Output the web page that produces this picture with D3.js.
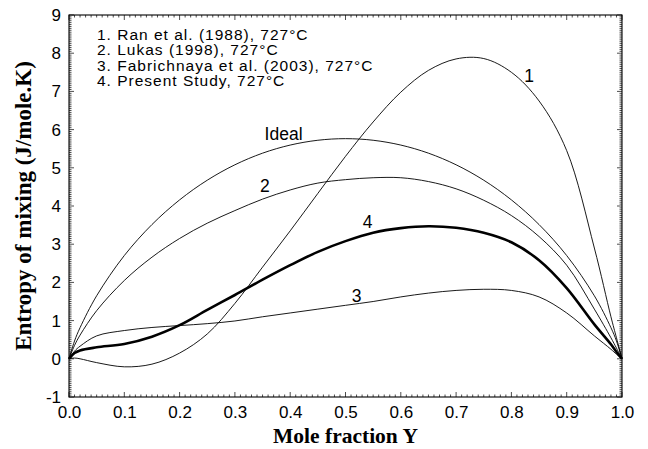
<!DOCTYPE html>
<html><head><meta charset="utf-8">
<script src="https://cdn.jsdelivr.net/npm/d3@7"></script>
<style>body{margin:0;background:#fff}svg{display:block}</style>
</head><body>
<svg id="chart" width="648" height="449"></svg>
<script>
// Data
const xs = [0,0.01,0.02,0.05,0.1,0.15,0.2,0.25,0.3,0.35,0.4,0.45,0.5,0.55,0.6,0.65,0.7,0.75,0.8,0.85,0.9,0.95,0.98,0.99,1];
const ideal = [0,0.466,0.815,1.650,2.703,3.514,4.160,4.675,5.079,5.383,5.595,5.721,5.763,5.721,5.595,5.383,5.079,4.675,4.160,3.514,2.703,1.650,0.815,0.466,0];
const ran   = [0,0.02,0.0,-0.10,-0.21,-0.14,0.15,0.65,1.45,2.40,3.35,4.33,5.30,6.20,6.98,7.55,7.85,7.86,7.50,6.75,5.45,2.90,1.10,0.55,0];
const lukas = [0,0.35,0.62,1.26,2.05,2.66,3.15,3.55,3.88,4.18,4.42,4.60,4.69,4.74,4.74,4.64,4.45,4.15,3.75,3.20,2.45,1.30,0.55,0.28,0];
const fabr  = [0,0.20,0.33,0.60,0.74,0.82,0.87,0.92,0.99,1.10,1.20,1.30,1.40,1.50,1.62,1.72,1.79,1.82,1.79,1.62,1.20,0.60,0.25,0.12,0];
const present=[0,0.15,0.22,0.30,0.39,0.58,0.88,1.28,1.67,2.07,2.45,2.80,3.08,3.30,3.42,3.47,3.43,3.30,3.05,2.58,1.85,0.90,0.38,0.18,0];
const xTicks = [0,0.1,0.2,0.3,0.4,0.5,0.6,0.7,0.8,0.9,1.0];
const yTicks = [-1,0,1,2,3,4,5,6,7,8,9];
const legendLines = ["1. Ran et al. (1988), 727°C","2. Lukas (1998), 727°C","3. Fabrichnaya et al. (2003), 727°C","4. Present Study, 727°C"];
const curveLabels = [
  {text:"1", x:0.832, y:7.24},
  {text:"Ideal", x:0.388, y:5.72},
  {text:"2", x:0.354, y:4.37},
  {text:"4", x:0.54, y:3.42},
  {text:"3", x:0.52, y:1.48}
];

const svg = d3.select("#chart");
const L=69, R=622, T=15, B=397;
const x = d3.scaleLinear().domain([0,1]).range([L,R]);
const y = d3.scaleLinear().domain([-1,9]).range([B,T]);
const tickFont = "'Liberation Sans', Arial, sans-serif";
const fs = 17;

// frame
svg.append("rect").attr("x",L).attr("y",T).attr("width",R-L).attr("height",B-T)
  .attr("fill","none").attr("stroke","#000").attr("stroke-width",1.1);

// minor and major ticks on all four sides (inward)
const xMinor = d3.range(0,101).map(i=>i/100);
const yMinor = d3.range(-20,181).map(i=>i/20);
const g = svg.append("g").attr("stroke","#000").attr("stroke-width",0.7);
xMinor.forEach(v=>{
  const major = Math.abs(v*10-Math.round(v*10))<1e-6;
  const len = major?5:2.5;
  g.append("line").attr("x1",x(v)).attr("x2",x(v)).attr("y1",B).attr("y2",B-len);
  g.append("line").attr("x1",x(v)).attr("x2",x(v)).attr("y1",T).attr("y2",T+len);
});
yMinor.forEach(v=>{
  const major = Math.abs(v-Math.round(v))<1e-6;
  const len = major?5:2.5;
  g.append("line").attr("y1",y(v)).attr("y2",y(v)).attr("x1",L).attr("x2",L+len);
  g.append("line").attr("y1",y(v)).attr("y2",y(v)).attr("x1",R).attr("x2",R-len);
});

// axis labels via d3 axes (tick lines drawn above)
const xAxis = d3.axisBottom(x).tickValues(xTicks).tickFormat(d3.format(".1f")).tickSize(0).tickPadding(9);
const xa = svg.append("g").attr("transform",`translate(0,${B})`).call(xAxis);
const yAxis = d3.axisLeft(y).tickValues(yTicks).tickFormat(d=>String(d)).tickSize(0).tickPadding(8);
const ya = svg.append("g").attr("transform",`translate(${L},0)`).call(yAxis);
[xa,ya].forEach(a=>{
  a.select(".domain").remove();
  a.selectAll("text").attr("font-family",tickFont).attr("font-size",fs).attr("fill","#000");
});

// axis titles
svg.append("text").attr("x",(L+R)/2).attr("y",443).attr("text-anchor","middle")
  .attr("font-family","'Liberation Serif','Times New Roman',serif").attr("font-weight","bold")
  .attr("font-size",21.5).text("Mole fraction Y");
svg.append("text").attr("transform",`translate(31,${(T+B)/2}) rotate(-90)`).attr("text-anchor","middle")
  .attr("font-family","'Liberation Serif','Times New Roman',serif").attr("font-weight","bold")
  .attr("font-size",23).text("Entropy of mixing (J/mole.K)");

// curves
const line = d3.line().x((d,i)=>x(xs[i])).y(d=>y(d)).curve(d3.curveCatmullRom.alpha(0.5));
const series = [
  {v:ideal,w:0.9},{v:ran,w:0.9},{v:lukas,w:0.9},{v:fabr,w:0.9},{v:present,w:2.6}
];
series.forEach(s=>{
  svg.append("path").attr("d",line(s.v)).attr("fill","none").attr("stroke","#000")
    .attr("stroke-width",s.w).attr("stroke-linejoin","round");
});

// curve labels
curveLabels.forEach(c=>{
  svg.append("text").attr("x",x(c.x)).attr("y",y(c.y)).attr("text-anchor","middle")
    .attr("font-family",tickFont).attr("font-size",17.5).text(c.text);
});

// legend
legendLines.forEach((t,i)=>{
  svg.append("text").attr("x",97).attr("y",39.5+i*15.5)
    .attr("font-family",tickFont).attr("font-size",15.5).attr("letter-spacing",1.0).text(t);
});
</script>
</body></html>
